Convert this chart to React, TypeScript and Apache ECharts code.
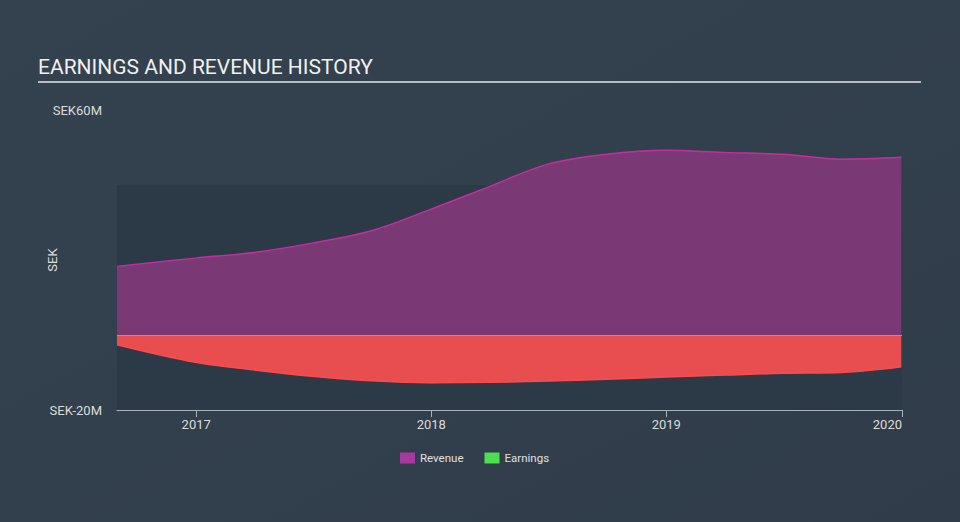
import React, { useEffect, useRef } from "react";
import * as echarts from "echarts";

const dates = [
  "2016-08-31", "2016-12-31", "2017-03-31", "2017-06-30", "2017-09-30",
  "2017-12-31", "2018-03-31", "2018-06-30", "2018-09-30", "2018-12-31",
  "2019-03-31", "2019-06-30", "2019-09-30", "2020-01-01",
];
const revenue = [18.3, 20.5, 22.0, 24.5, 27.8, 33.5, 39.5, 45.5, 48.2, 49.3, 48.7, 48.2, 46.9, 47.4];
const earnings = [-2.6, -7.3, -9.3, -11.0, -12.2, -12.7, -12.6, -12.3, -11.8, -11.2, -10.7, -10.2, -10.0, -8.5];
const yTickLabels: Record<string, string> = { "-20": "SEK-20M", "60": "SEK60M" };
const xStart = "2016-08-31";
const xEnd = "2020-01-02";
const shadeTop = 40;

export default function App() {
  const ref = useRef<HTMLDivElement>(null);
  useEffect(() => {
    if (!ref.current) return;
    const chart = echarts.init(ref.current, null, { renderer: "svg" });
    const M = 1e6;
    const YEAR = 365 * 24 * 3600 * 1000;
    chart.setOption({
      animation: false,
      backgroundColor: {
        type: "linear", x: 0, y: 0, x2: 1, y2: 1,
        colorStops: [
          { offset: 0, color: "#34424f" },
          { offset: 1, color: "#303c49" },
        ],
      },
      textStyle: { fontFamily: "Roboto" },
      title: {
        text: "EARNINGS AND REVENUE HISTORY",
        left: 38, top: 56,
        padding: 0,
        textStyle: { color: "#f0f0f0", fontSize: 21, fontWeight: "normal", fontFamily: "Roboto" },
      },
      graphic: [
        { type: "line", shape: { x1: 38, y1: 82, x2: 921, y2: 82 }, style: { stroke: "#b8bcc2", lineWidth: 2 } },
      ],
      legend: {
        bottom: 58,
        left: 400,
        padding: 0,
        itemWidth: 15,
        itemHeight: 11,
        itemGap: 21,
        icon: "rect",
        textStyle: { color: "#e0e0e0", fontSize: 11.5 },
        data: [
          { name: "Revenue", itemStyle: { color: "#a8389f" } },
          { name: "Earnings", itemStyle: { color: "#4ddf4d" } },
        ],
      },
      grid: { left: 117, right: 58, top: 110, bottom: 112 },
      xAxis: {
        type: "time",
        min: xStart,
        max: xEnd,
        minInterval: YEAR,
        axisLine: { show: true, onZero: false, lineStyle: { color: "#a9b1ba", width: 1 } },
        axisTick: { show: true, length: 7, lineStyle: { color: "#a9b1ba" } },
        splitLine: { show: false },
        axisLabel: {
          color: "#dcdcdc", fontSize: 13, margin: 8,
          formatter: (v: number) => String(new Date(v).getFullYear()),
          showMinLabel: false,
          showMaxLabel: true,
          alignMaxLabel: "right",
        },
      },
      yAxis: {
        type: "value",
        min: -20 * M,
        max: 60 * M,
        interval: 20 * M,
        name: "SEK",
        nameLocation: "middle",
        nameGap: 58,
        nameRotate: 90,
        nameMoveOverlap: false,
        nameTextStyle: { color: "#dcdcdc", fontSize: 13 },
        axisLine: { show: false },
        axisTick: { show: false },
        splitLine: { show: false },
        axisLabel: {
          color: "#dcdcdc", fontSize: 13, margin: 15,
          formatter: (v: number) => yTickLabels[String(Math.round(v / M))] || "",
        },
      },
      series: [
        {
          name: "shade",
          type: "line",
          data: [],
          z: 0,
          silent: true,
          markArea: {
            silent: true,
            itemStyle: { color: "#2c3a48" },
            data: [[{ xAxis: xStart, yAxis: -20 * M }, { xAxis: xEnd, yAxis: shadeTop * M }]],
          },
        },
        {
          name: "Revenue",
          type: "line",
          smooth: 0.35,
          symbol: "none",
          z: 2,
          data: dates.map((d, i) => [d, revenue[i] * M]),
          lineStyle: { color: "#c2309f", width: 1.5 },
          itemStyle: { color: "#a8389f" },
          areaStyle: { color: "#7a3975", opacity: 1 },
        },
        {
          name: "Earnings",
          type: "line",
          smooth: 0.35,
          symbol: "none",
          z: 3,
          data: dates.map((d, i) => [d, earnings[i] * M]),
          lineStyle: { color: "#ff4a4a", width: 1.5 },
          itemStyle: { color: "#4ddf4d" },
          areaStyle: { color: "#e84e50", opacity: 1 },
          markLine: {
            silent: true,
            symbol: "none",
            label: { show: false },
            lineStyle: { color: "#9a9aa6", width: 1, type: "solid" },
            data: [{ yAxis: 0 }],
          },
        },
      ],
    });
    return () => chart.dispose();
  }, []);
  return <div ref={ref} style={{ width: 960, height: 522, position: "absolute", left: 0, top: 0 }} />;
}
